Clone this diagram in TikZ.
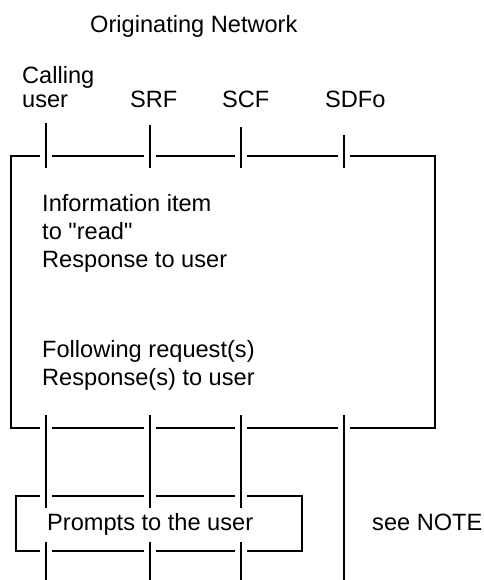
\documentclass[tikz,border=0pt]{standalone}
\usepackage{fontspec}
\setmainfont{Liberation Sans}[Ligatures=TeXOff]
\begin{document}
\begin{tikzpicture}[x=1pt,y=-1pt,
  life/.style={line width=2.4pt},
  frame/.style={line width=1.1pt},
  lbl/.style={anchor=base west,inner sep=0pt,font=\fontsize{23.6}{28}\selectfont}]
\useasboundingbox (0,0) rectangle (483,580);
% labels
\node[lbl] (title) at (90,33) {Originating Network};
\node[lbl] (calling) at (22,84) {Calling};
\node[lbl] (user) at (22,108) {user};
\node[lbl] (srf) at (130,108) {SRF};
\node[lbl] (scf) at (222,108) {SCF};
\node[lbl] (sdfo) at (325,108) {SDFo};
\node[lbl] (t1) at (42,211) {Information item};
\node[lbl] (t2) at (42,239) {to "read"};
\node[lbl] (t3) at (42,267) {Response to user};
\node[lbl] (t4) at (42,357) {Following request(s)};
\node[lbl] (t5) at (42,385) {Response(s) to user};
\node[lbl] (prompts) at (47,530) {Prompts to the user};
\node[lbl] (note) at (372,530) {see NOTE};
% lifeline coordinates
\coordinate (ua) at (46,123);  \coordinate (ub) at (46,168);
\coordinate (ra) at (150,125); \coordinate (rb) at (150,168);
\coordinate (ca) at (241,127); \coordinate (cb) at (241,168);
\coordinate (da) at (344,135); \coordinate (db) at (344,168);
\coordinate (uc) at (46,415);  \coordinate (ud) at (46,508);
\coordinate (rc) at (150,415); \coordinate (rd) at (150,508);
\coordinate (cc) at (241,415); \coordinate (cd) at (241,508);
\coordinate (dc) at (344,415); \coordinate (dd) at (344,580);
\coordinate (ue) at (46,542);  \coordinate (uf) at (46,580);
\coordinate (re) at (150,542); \coordinate (rf) at (150,580);
\coordinate (ce) at (241,542); \coordinate (cf) at (241,580);
\draw[life] (ua) -- (ub) (ra) -- (rb) (ca) -- (cb) (da) -- (db);
\draw[life] (uc) -- (ud) (rc) -- (rd) (cc) -- (cd) (dc) -- (dd);
\draw[life] (ue) -- (uf) (re) -- (rf) (ce) -- (cf);
% big frame
\draw[frame] (40,156) -- (11,156) -- (11,428) -- (40,428);
\draw[frame] (52,156) -- (144,156) (156,156) -- (235,156) (247,156) -- (338,156);
\draw[frame] (350,156) -- (435,156) -- (435,428) -- (350,428);
\draw[frame] (52,428) -- (144,428) (156,428) -- (235,428) (247,428) -- (338,428);
% prompts box
\draw[frame] (40,496) -- (16,496) -- (16,551) -- (40,551);
\draw[frame] (52,496) -- (144,496) (156,496) -- (235,496);
\draw[frame] (52,551) -- (144,551) (156,551) -- (235,551);
\draw[frame] (247,496) -- (302,496) -- (302,551) -- (247,551);
\end{tikzpicture}
\end{document}
